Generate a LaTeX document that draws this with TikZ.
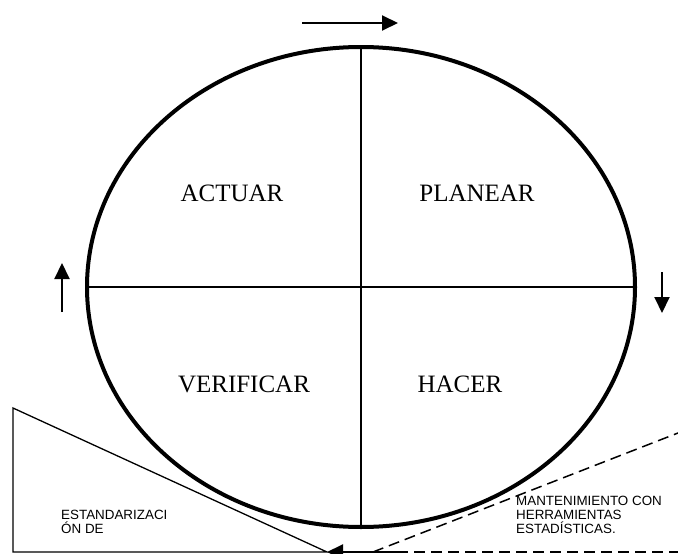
\documentclass[tikz,border=0pt]{standalone}
\usepackage{fontspec}
\setmainfont{Liberation Serif}
\newfontfamily\arialfont{Liberation Sans}
\usetikzlibrary{
	arrows.meta,
	positioning
}

\begin{document}
\begin{tikzpicture}[
	x=1pt, y=-1pt,
	fase/.style={
		font=\fontsize{25}{30}\selectfont,
		anchor=base,
		inner sep=0pt
	},
	nota/.style={
		font=\arialfont\fontsize{13.4}{14}\selectfont,
		align=left,
		anchor=base west,
		inner sep=0pt
	},
	ciclo/.style={line width=4pt},
	eje/.style={line width=1.3pt},
	giro/.style={-{Triangle[length=16pt, width=15pt]}, line width=2pt},
	rampa/.style={line width=1.3pt},
	guia/.style={line width=1.5pt, dash pattern=on 11pt off 6pt}
]
\useasboundingbox (0,0) rectangle (678,554);

% Ciclo
\coordinate (centro) at (361,287);
\draw[ciclo] (centro) ellipse [x radius=274, y radius=240];
\coordinate (arriba) at (361,47);
\coordinate (abajo) at (361,527);
\coordinate (izq) at (87,287);
\coordinate (der) at (635,287);
\draw[eje] (arriba) -- (abajo);
\draw[eje] (izq) -- (der);

\node[fase] (actuar) at (232,201) {ACTUAR};
\node[fase] (planear) at (477,201) {PLANEAR};
\node[fase] (verificar) at (244,392) {VERIFICAR};
\node[fase] (hacer) at (460,392) {HACER};

% Sentido de giro
\coordinate (g1a) at (302,23);
\coordinate (g1b) at (398,23);
\coordinate (g2a) at (662,272);
\coordinate (g2b) at (662,313);
\coordinate (g3a) at (62,312);
\coordinate (g3b) at (62,263);
\draw[giro] (g1a) -- (g1b);
\draw[giro] (g2a) -- (g2b);
\draw[giro] (g3a) -- (g3b);

% Cuna inferior
\coordinate (cunaA) at (13,408);
\coordinate (cunaB) at (13,552);
\coordinate (tope) at (327,552);
\draw[rampa] (cunaA) -- (cunaB) -- (tope) -- cycle;
\coordinate (empuje) at (397,552);
\draw[giro] (empuje) -- (tope);
\coordinate (finH) at (678,552);
\coordinate (pie) at (373,552);
\coordinate (finD) at (678,433);
\draw[guia] (empuje) -- (finH);
\draw[guia] (pie) -- (finD);

\node[nota] (estandar) at (61,533) {ESTANDARIZACI\\ÓN DE};
\node[nota] (manten) at (516,533) {MANTENIMIENTO CON\\HERRAMIENTAS\\ESTADÍSTICAS.};
\end{tikzpicture}
\end{document}
